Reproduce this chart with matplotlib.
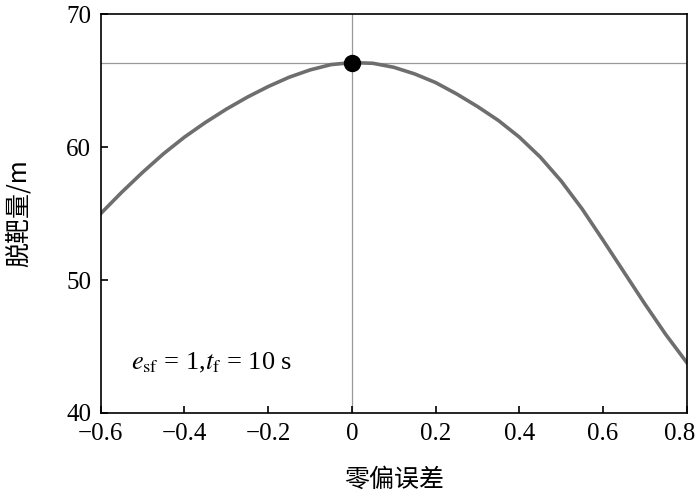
import numpy as np
import matplotlib.pyplot as plt
import matplotlib.transforms as mtransforms

# zero-bias error vs miss distance
bias = [-0.6, -0.55, -0.5, -0.45, -0.4, -0.35, -0.3, -0.25, -0.2, -0.15, -0.1, -0.05,
        0.0, 0.05, 0.1, 0.15, 0.2, 0.25, 0.3, 0.35, 0.4, 0.45, 0.5, 0.55, 0.6, 0.65,
        0.7, 0.75, 0.8]
miss = [55.0, 56.6, 58.1, 59.5, 60.75, 61.85, 62.85, 63.75, 64.55, 65.25, 65.8, 66.2,
        66.35, 66.3, 66.0, 65.5, 64.85, 64.0, 63.05, 62.0, 60.75, 59.25, 57.45, 55.35,
        53.0, 50.6, 48.2, 45.9, 43.8]
peak_x = 0.0
peak_y = 66.35

plt.rcParams['font.family'] = ['Liberation Serif', 'Noto Sans CJK SC']
plt.rcParams['mathtext.fontset'] = 'stix'

fig = plt.figure(figsize=(7, 5.03), dpi=100)
ax = fig.add_axes([0.144, 0.179, 0.837, 0.793])

ax.axhline(peak_y, color='#999999', lw=0.9, zorder=1)
ax.axvline(peak_x, color='#999999', lw=0.9, zorder=1)
ax.plot(bias, miss, color='#6e6e6e', lw=2.6, zorder=2, solid_joinstyle='round')
ax.plot([peak_x], [peak_y], 'o', color='black', markersize=11.5, zorder=3)

ax.set_xlim(-0.6, 0.8)
ax.set_ylim(40, 70)
ax.set_xticks(np.arange(-0.6, 0.81, 0.2))
ax.set_yticks([40, 50, 60, 70])
ax.set_xticklabels(['\u22120.6', '\u22120.4', '\u22120.2', '0', '0.2', '0.4', '0.6', '0.8'])
ax.tick_params(direction='in', length=5, width=1.2, labelsize=18, pad=7)
for s in ax.spines.values():
    s.set_linewidth(1.2)

# last tick label sits a bit left so it stays inside the picture
last = ax.get_xticklabels()[-1]
last.set_transform(last.get_transform() + mtransforms.ScaledTranslation(-7 / 100, 0, fig.dpi_scale_trans))

ax.set_xlabel('零偏误差', fontsize=18, family=['Noto Sans CJK SC'], labelpad=16)
ax.set_ylabel('脱靶量/m', fontsize=18, family=['Noto Sans CJK SC'], labelpad=24)

ax.text(-0.527, 43.8, r'$e_{\rm sf}$ = 1,$t_{\rm f}$ = 10 s', fontsize=19, va='center', ha='left')

fig.savefig('out.png', dpi=100)
